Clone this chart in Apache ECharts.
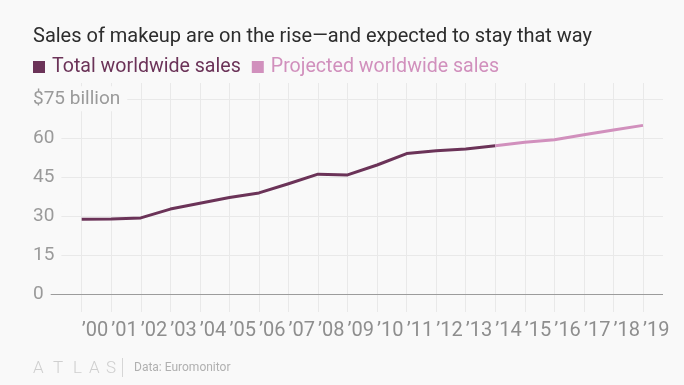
<!DOCTYPE html>
<html>
<head>
<meta charset="utf-8">
<script src="https://cdn.jsdelivr.net/npm/echarts@6/dist/echarts.min.js"></script>
<style>
  html, body { margin: 0; padding: 0; background: #f9f9f9; }
  #chart { width: 684px; height: 385px; }
</style>
</head>
<body>
<div id="chart"></div>
<script>
// ---- data ----
const years = ['’00','’01','’02','’03','’04','’05','’06','’07','’08','’09','’10','’11','’12','’13','’14','’15','’16','’17','’18','’19'];
const totalSales = [28.8, 28.9, 29.3, 32.7, 34.9, 37.1, 38.9, 42.4, 46.1, 45.8, 49.6, 54.0, 55.1, 55.7, 57.0];      // '00 - '14
const projectedSales = [57.0, 58.3, 59.3, 61.2, 63.0, 64.8];                                                          // '14 - '19
const projectedStart = 14; // index of '14
const yUnitLabel = '$75 billion';
const titleText = 'Sales of makeup are on the rise—and expected to stay that way';
const seriesNames = ['Total worldwide sales', 'Projected worldwide sales'];
const sourceText = 'Data: Euromonitor';

const totalData = years.map((y, i) => i < totalSales.length ? totalSales[i] : null);
const projData = years.map((y, i) => i >= projectedStart ? projectedSales[i - projectedStart] : null);

const C_TOTAL = '#6b3358';
const C_PROJ = '#d190bd';
const BG = '#f9f9f9';
const GRID = '#e9e9e9';
const FONT = 'Roboto, "Noto Sans", sans-serif';

const chart = echarts.init(document.getElementById('chart'), null, { renderer: 'canvas' });

// pixel mapping: value 0 -> y 294.3, 75 -> y 98.8 ; grid0 spans y 83..312
const pxPerUnit = (294.3 - 98.8) / 75;
const g0Max = 75 + (98.8 - 83) / pxPerUnit;
const g0Min = 0 - (312 - 294.3) / pxPerUnit;

chart.setOption({
  backgroundColor: BG,
  animation: false,
  textStyle: { fontFamily: FONT },
  title: {
    text: titleText,
    left: 33, top: 27, padding: 0,
    textStyle: { fontFamily: FONT, fontSize: 20, fontWeight: 'normal', color: '#2d2d2d' }
  },
  legend: {
    left: 33, top: 57, padding: 0,
    itemWidth: 12, itemHeight: 12, itemGap: 11,
    icon: 'rect',
    selectedMode: false,
    data: [
      { name: seriesNames[0], textStyle: { color: C_TOTAL } },
      { name: seriesNames[1], textStyle: { color: C_PROJ } }
    ],
    textStyle: { fontFamily: FONT, fontSize: 19.6, padding: [0, 0, 0, 2] }
  },
  grid: [
    { left: 81.7, right: 684 - 643, top: 83, bottom: 385 - 312, outerBoundsMode: 'none' },
    { left: 33, right: 684 - 663, top: 98.8, bottom: 385 - 294.3, outerBoundsMode: 'none' }
  ],
  xAxis: [
    {
      gridIndex: 0, type: 'category', data: years, boundaryGap: false,
      axisLine: { show: false }, axisTick: { show: false },
      splitLine: { show: true, interval: 0, lineStyle: { color: GRID, width: 1 } },
      axisLabel: {
        interval: 0, align: 'left', verticalAlign: 'middle', margin: 19,
        fontFamily: FONT, fontSize: 20, color: '#8e8e8e'
      }
    },
    {
      gridIndex: 1, type: 'value', min: 0, max: 1, show: false
    }
  ],
  yAxis: [
    { gridIndex: 0, type: 'value', min: g0Min, max: g0Max, show: false },
    {
      gridIndex: 1, type: 'value', min: 0, max: 75, interval: 15, z: 3,
      axisLine: { show: false }, axisTick: { show: false },
      splitLine: { show: true, lineStyle: { color: ['#9c9c9c', GRID, GRID, GRID, GRID, GRID], width: 1 } },
      axisLabel: {
        inside: true, margin: 0, align: 'left', verticalAlign: 'middle',
        fontFamily: FONT, fontSize: 19, color: '#9a9a9a',
        backgroundColor: BG, padding: [3, 7, 3, 0],
        formatter: v => (v === 75 ? yUnitLabel : String(v))
      }
    }
  ],
  series: [
    {
      name: seriesNames[0], type: 'line', xAxisIndex: 0, yAxisIndex: 0,
      data: totalData, showSymbol: false, symbol: 'none', z: 4,
      color: C_TOTAL,
      lineStyle: { color: C_TOTAL, width: 3, join: 'round' }
    },
    {
      name: seriesNames[1], type: 'line', xAxisIndex: 0, yAxisIndex: 0,
      data: projData, showSymbol: false, symbol: 'none', z: 4,
      color: C_PROJ,
      lineStyle: { color: C_PROJ, width: 3, join: 'round' }
    }
  ],
  graphic: [
    { type: 'text', left: 33, top: 360, style: { text: 'A', font: '300 17px ' + FONT, fill: '#cfcfcf' } },
    { type: 'text', left: 53, top: 360, style: { text: 'T', font: '300 17px ' + FONT, fill: '#cfcfcf' } },
    { type: 'text', left: 73, top: 360, style: { text: 'L', font: '300 17px ' + FONT, fill: '#cfcfcf' } },
    { type: 'text', left: 89, top: 360, style: { text: 'A', font: '300 17px ' + FONT, fill: '#cfcfcf' } },
    { type: 'text', left: 106, top: 360, style: { text: 'S', font: '300 17px ' + FONT, fill: '#cfcfcf' } },
    { type: 'rect', shape: { x: 122, y: 358, width: 1, height: 19 }, style: { fill: '#d6d6d6' } },
    { type: 'text', left: 134, top: 362, style: { text: sourceText, font: '12px ' + FONT, fill: '#b0b0b0' } }
  ]
});
</script>
</body>
</html>
